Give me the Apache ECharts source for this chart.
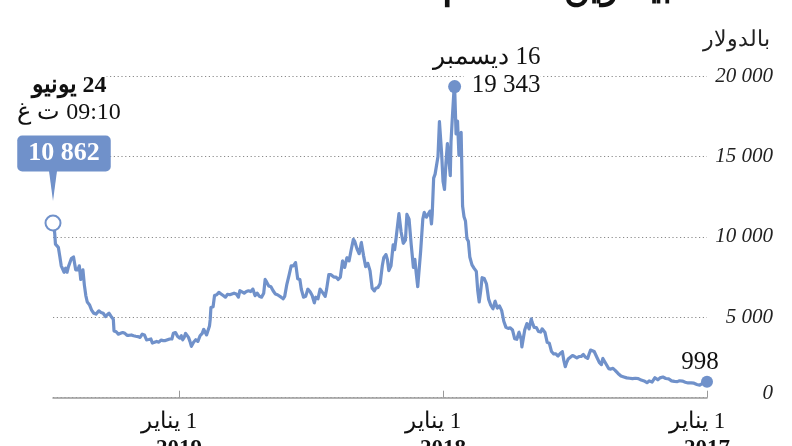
<!DOCTYPE html>
<html>
<head>
<meta charset="utf-8">
<script src="https://cdn.jsdelivr.net/npm/echarts@6/dist/echarts.min.js"></script>
<style>
html,body{margin:0;padding:0;background:#fff;}
#c{width:792px;height:446px;}
</style>
</head>
<body>
<div id="c"></div>
<script>
// ---------------- DATA ----------------
const prices2017 = [
['2017-01-01',998],['2017-01-04',1154],['2017-01-07',896],['2017-01-11',777],['2017-01-15',821],['2017-01-19',901],['2017-01-23',922],['2017-01-27',918],['2017-01-31',965],
['2017-02-04',1033],['2017-02-08',1055],['2017-02-11',1000],['2017-02-15',1011],['2017-02-19',1049],['2017-02-23',1172],['2017-02-27',1193],
['2017-03-03',1285],['2017-03-07',1233],['2017-03-10',1111],['2017-03-14',1243],['2017-03-18',970],['2017-03-22',1045],['2017-03-25',935],['2017-03-29',1043],
['2017-04-02',1096],['2017-04-06',1190],['2017-04-10',1208],['2017-04-14',1182],['2017-04-18',1211],['2017-04-22',1232],['2017-04-26',1290],['2017-04-30',1348],
['2017-05-04',1507],['2017-05-08',1701],['2017-05-11',1823],['2017-05-14',1780],['2017-05-17',1810],['2017-05-20',2050],['2017-05-23',2280],['2017-05-25',2440],['2017-05-27',2050],['2017-05-30',2200],
['2017-06-02',2480],['2017-06-06',2870],['2017-06-08',2780],['2017-06-11',2960],['2017-06-13',2720],['2017-06-15',2440],['2017-06-18',2520],['2017-06-21',2690],['2017-06-24',2560],['2017-06-27',2560],['2017-06-30',2480],
['2017-07-03',2560],['2017-07-06',2620],['2017-07-09',2510],['2017-07-12',2400],['2017-07-14',2200],['2017-07-16',1930],['2017-07-18',2320],['2017-07-20',2860],['2017-07-23',2750],['2017-07-26',2590],['2017-07-29',2730],
['2017-08-01',2720],['2017-08-04',2870],['2017-08-07',3380],['2017-08-10',3440],['2017-08-13',4050],['2017-08-15',4170],['2017-08-17',4280],['2017-08-19',4080],['2017-08-22',4120],['2017-08-25',4360],['2017-08-28',4370],['2017-08-31',4720],
['2017-09-01',4900],['2017-09-04',4280],['2017-09-07',4610],['2017-09-10',4220],['2017-09-12',4160],['2017-09-14',3160],['2017-09-15',3640],['2017-09-18',4070],['2017-09-21',3630],['2017-09-24',3670],['2017-09-27',4210],['2017-09-30',4340],
['2017-10-03',4310],['2017-10-06',4370],['2017-10-09',4750],['2017-10-12',5430],['2017-10-15',5700],['2017-10-18',5580],['2017-10-21',6000],['2017-10-24',5530],['2017-10-27',5750],['2017-10-30',6130],
['2017-11-02',7080],['2017-11-05',7410],['2017-11-08',7460],['2017-11-10',6620],['2017-11-12',5950],['2017-11-14',6640],['2017-11-16',7850],['2017-11-19',8040],['2017-11-22',8260],['2017-11-25',8750],['2017-11-27',9730],['2017-11-29',9890],
['2017-12-01',10980],['2017-12-03',11250],['2017-12-05',11920],['2017-12-07',16500],['2017-12-08',16010],['2017-12-10',15060],['2017-12-12',17200],['2017-12-14',16400],['2017-12-16',19343],['2017-12-17',19050],['2017-12-19',17530],['2017-12-21',15900],['2017-12-22',13800],['2017-12-24',13900],['2017-12-26',15800],['2017-12-28',14600],['2017-12-30',12950]
];
const prices2018 = [
['2018-01-01',13450],['2018-01-03',15200],['2018-01-06',17170],['2018-01-08',15000],['2018-01-10',14900],['2018-01-12',13900],['2018-01-14',13650],['2018-01-16',11400],['2018-01-17',10800],['2018-01-19',11600],['2018-01-21',11500],['2018-01-24',11230],['2018-01-27',11520],['2018-01-29',11100],
['2018-02-01',9100],['2018-02-03',9100],['2018-02-05',6900],['2018-02-07',7700],['2018-02-09',8600],['2018-02-11',8100],['2018-02-14',9500],['2018-02-17',11100],['2018-02-20',11400],['2018-02-22',9800],['2018-02-25',9600],['2018-02-28',10300],
['2018-03-03',11440],['2018-03-05',11500],['2018-03-07',9900],['2018-03-09',9200],['2018-03-11',9500],['2018-03-14',8200],['2018-03-17',7900],['2018-03-19',8600],['2018-03-21',8900],['2018-03-24',8700],['2018-03-26',8200],['2018-03-29',7100],
['2018-04-01',6850],['2018-04-04',6800],['2018-04-06',6640],['2018-04-09',6800],['2018-04-12',7900],['2018-04-15',8350],['2018-04-18',8150],['2018-04-21',8850],['2018-04-24',9650],['2018-04-27',8950],['2018-04-30',9250],
['2018-05-03',9700],['2018-05-05',9850],['2018-05-08',9200],['2018-05-11',8500],['2018-05-14',8700],['2018-05-17',8100],['2018-05-20',8500],['2018-05-23',7500],['2018-05-26',7350],['2018-05-29',7500],
['2018-06-01',7500],['2018-06-05',7650],['2018-06-08',7650],['2018-06-11',6750],['2018-06-13',6300],['2018-06-16',6500],['2018-06-20',6750],['2018-06-23',6150],['2018-06-26',6250],['2018-06-28',5900],
['2018-07-01',6350],['2018-07-04',6600],['2018-07-07',6750],['2018-07-10',6300],['2018-07-13',6250],['2018-07-16',6740],['2018-07-18',7350],['2018-07-21',7400],['2018-07-24',8400],['2018-07-27',8200],['2018-07-30',8200],
['2018-08-02',7600],['2018-08-05',7050],['2018-08-08',6300],['2018-08-10',6150],['2018-08-13',6250],['2018-08-15',6300],['2018-08-18',6400],['2018-08-21',6450],['2018-08-24',6650],['2018-08-27',6900],['2018-08-30',6950],
['2018-09-02',7200],['2018-09-04',7350],['2018-09-06',6500],['2018-09-09',6250],['2018-09-12',6300],['2018-09-15',6500],['2018-09-18',6350],['2018-09-21',6750],['2018-09-24',6600],['2018-09-27',6650],['2018-09-30',6600],
['2018-10-03',6500],['2018-10-06',6580],['2018-10-09',6650],['2018-10-11',6250],['2018-10-14',6450],['2018-10-17',6500],['2018-10-20',6450],['2018-10-23',6400],['2018-10-26',6430],['2018-10-29',6250],
['2018-11-01',6350],['2018-11-04',6450],['2018-11-07',6550],['2018-11-10',6400],['2018-11-13',6350],['2018-11-15',5650],['2018-11-18',5600],['2018-11-19',4850],['2018-11-20',4450],['2018-11-22',4350],['2018-11-24',3900],['2018-11-26',3800],['2018-11-28',4250],['2018-11-30',4000],
['2018-12-03',3850],['2018-12-06',3500],['2018-12-09',3600],['2018-12-12',3450],['2018-12-15',3200],['2018-12-17',3500],['2018-12-19',3750],['2018-12-21',3850],['2018-12-23',4000],['2018-12-25',3750],['2018-12-27',3600],['2018-12-29',3850],['2018-12-31',3700]
];
const prices2019 = [
['2019-01-03',3800],['2019-01-06',4050],['2019-01-09',4000],['2019-01-11',3650],['2019-01-14',3650],['2019-01-17',3600],['2019-01-20',3550],['2019-01-23',3550],['2019-01-26',3580],['2019-01-29',3450],
['2019-02-01',3500],['2019-02-04',3450],['2019-02-07',3400],['2019-02-09',3650],['2019-02-12',3620],['2019-02-15',3600],['2019-02-18',3900],['2019-02-21',3950],['2019-02-24',3750],['2019-02-27',3800],
['2019-03-02',3820],['2019-03-05',3850],['2019-03-08',3900],['2019-03-11',3880],['2019-03-14',3880],['2019-03-17',4000],['2019-03-20',4050],['2019-03-23',4000],['2019-03-26',3950],['2019-03-29',4100],
['2019-04-01',4150],['2019-04-02',4880],['2019-04-05',5050],['2019-04-08',5250],['2019-04-10',5300],['2019-04-13',5050],['2019-04-16',5250],['2019-04-19',5300],['2019-04-22',5400],['2019-04-24',5500],['2019-04-26',5200],['2019-04-29',5250],
['2019-05-02',5450],['2019-05-05',5780],['2019-05-08',5950],['2019-05-10',6350],['2019-05-12',7000],['2019-05-14',7950],['2019-05-16',7900],['2019-05-17',7350],['2019-05-19',8200],['2019-05-21',7950],['2019-05-24',7950],['2019-05-27',8750],['2019-05-30',8650],
['2019-06-01',8550],['2019-06-03',8150],['2019-06-05',7800],['2019-06-07',8050],['2019-06-09',7800],['2019-06-11',8000],['2019-06-13',8200],['2019-06-15',8800],['2019-06-17',9350],['2019-06-19',9250],['2019-06-21',9550],['2019-06-22',10200],['2019-06-23',10700],['2019-06-24 09:10',10862]
];
const xTickDates = ['2017-01-01', '2018-01-01', '2019-01-01'];
const xTickDayMonth = '1 يناير';
const yTickValues = [0, 5000, 10000, 15000, 20000];
const arabicMonths = ['يناير','فبراير','مارس','أبريل','مايو','يونيو','يوليو','أغسطس','سبتمبر','أكتوبر','نوفمبر','ديسمبر'];
const titleText = 'عملة بيتكوين منذ عام';
const unitText = 'بالدولار';
const latestTimeText = '09:10 ت غ';

// ---------------- HELPERS ----------------
const BLUE = '#7091ca';
const FONT = "'Liberation Serif', 'DejaVu Serif', serif";
function parseT(s) {
  const [d, tm] = s.split(' ');
  const [y, m, dd] = d.split('-').map(Number);
  const [hh, mi] = tm ? tm.split(':').map(Number) : [0, 0];
  return new Date(y, m - 1, dd, hh, mi).getTime();
}
function fmt(v) { return String(v).replace(/\B(?=(\d{3})+(?!\d))/g, ' '); }
const rtl = s => '\u202B' + s + '\u202C';

const all = prices2017.concat(prices2018, prices2019).map(p => [parseT(p[0]), p[1]]);
const first = all[0];
const last = all[all.length - 1];
const peak = all.reduce((a, b) => (b[1] > a[1] ? b : a));
const dayMonth = t => { const d = new Date(t); return d.getDate() + ' ' + arabicMonths[d.getMonth()]; };
const tickTimes = xTickDates.map(parseT);

const chart = echarts.init(document.getElementById('c'), null, { renderer: 'canvas' });
chart.setOption({
  animation: false,
  backgroundColor: '#fff',
  title: [
    { text: titleText, left: 438, top: -34,
      textStyle: { fontSize: 36, fontWeight: 'bold', color: '#111', fontFamily: FONT } },
    { text: unitText, right: 17, top: 24,
      textStyle: { fontSize: 22, fontWeight: 'normal', color: '#222', fontFamily: FONT } }
  ],
  grid: { left: 53, right: 85, top: 76, bottom: 48.3, outerBoundsMode: 'none', containLabel: false },
  xAxis: {
    type: 'value', inverse: true, min: first[0], max: last[0], scale: true,
    axisLine: { lineStyle: { color: '#9a9a9a', width: 1.5 } },
    axisTick: { inside: true, length: 7, customValues: tickTimes, lineStyle: { color: '#9a9a9a', width: 1 } },
    axisLabel: {
      customValues: tickTimes, margin: 11, color: '#111',
      formatter: v => '{a|' + rtl(xTickDayMonth) + '}\n{b|' + new Date(v).getFullYear() + '}',
      rich: {
        a: { fontSize: 23, lineHeight: 27, fontFamily: FONT, color: '#111', padding: [0, 20, 0, 0] },
        b: { fontSize: 23, lineHeight: 27, fontFamily: FONT, fontWeight: 'bold', color: '#111' }
      }
    },
    splitLine: { show: false }
  },
  yAxis: {
    type: 'value', position: 'right', min: yTickValues[0], max: yTickValues[yTickValues.length - 1], interval: 5000,
    axisLine: { show: false }, axisTick: { show: false },
    splitLine: { lineStyle: { type: [1.2, 2.6], color: '#8a8a8a', width: 1 } },
    axisLabel: {
      margin: 66, align: 'right', fontStyle: 'italic', fontSize: 21, fontFamily: FONT, color: '#222',
      formatter: v => (v === 0 ? '{z|0}' : fmt(v)),
      rich: { z: { fontStyle: 'italic', fontSize: 21, fontFamily: FONT, color: '#222', padding: [0, 0, 8, 0] } }
    }
  },
  series: [
    {
      type: 'line', data: all, showSymbol: false, z: 2,
      lineStyle: { color: BLUE, width: 3.2, join: 'round' }
    },
    { // pointer + callout box with the latest value
      type: 'scatter', data: [last], z: 4, silent: true,
      symbol: 'path://M0 0 L2 0 L1 10 Z', symbolSize: [8, 30], symbolOffset: [0, -37],
      itemStyle: { color: BLUE, opacity: 1 },
      label: {
        show: true, position: 'top', distance: 4, offset: [11, 0], align: 'center',
        formatter: () => '{v|' + fmt(last[1]) + '}',
        rich: {
          v: { fontSize: 26, fontWeight: 'bold', lineHeight: 27, padding: [5, 11, 5, 11], fontFamily: FONT, color: '#fff', backgroundColor: BLUE, borderRadius: 5 }
        }
      }
    },
    { // latest value marker with date and time
      type: 'scatter', data: [last], z: 5, symbol: 'circle', symbolSize: 15,
      itemStyle: { color: '#fff', borderColor: BLUE, borderWidth: 2, opacity: 1 },
      label: {
        show: true, position: 'top', distance: 88, offset: [16, 0], align: 'center',
        formatter: () => '{d|' + rtl(dayMonth(last[0])) + '}\n{t|' + rtl(latestTimeText) + '}',
        rich: {
          d: { fontSize: 24, fontWeight: 'bold', lineHeight: 27, fontFamily: FONT, color: '#111', backgroundColor: '#fff' },
          t: { fontSize: 24, lineHeight: 27, fontFamily: FONT, color: '#111', backgroundColor: '#fff' }
        }
      }
    },
    { // peak
      type: 'scatter', data: [peak], z: 5, symbol: 'circle', symbolSize: 13,
      itemStyle: { color: BLUE, opacity: 1 },
      label: {
        show: true, position: [92.5, 19.5], align: 'right', verticalAlign: 'bottom',
        formatter: () => '{a|' + rtl(dayMonth(peak[0])) + '}\n{b|' + fmt(peak[1]) + '}',
        rich: {
          a: { fontSize: 25, lineHeight: 28, fontFamily: FONT, color: '#111' },
          b: { fontSize: 25, lineHeight: 28, fontFamily: FONT, color: '#111', backgroundColor: '#fff', padding: [0, 0, 0, 8] }
        }
      }
    },
    { // first value
      type: 'scatter', data: [first], z: 5, symbol: 'circle', symbolSize: 12,
      itemStyle: { color: BLUE, opacity: 1 },
      label: {
        show: true, position: 'top', distance: 0, offset: [-7, 0],
        formatter: () => fmt(first[1]),
        fontSize: 25, lineHeight: 26, fontFamily: FONT, color: '#111'
      }
    }
  ]
});
</script>
</body>
</html>
